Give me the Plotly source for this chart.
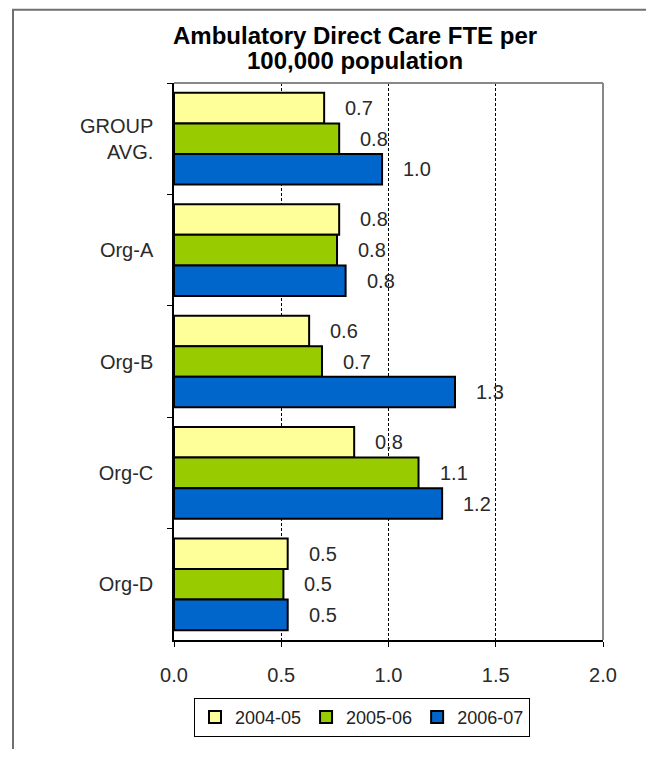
import plotly.graph_objects as go

categories = ["GROUP<br>AVG.", "Org-A", "Org-B", "Org-C", "Org-D"]
series_names = ["2004-05", "2005-06", "2006-07"]
v_2004_05 = [0.70, 0.77, 0.63, 0.84, 0.53]
v_2005_06 = [0.77, 0.76, 0.69, 1.14, 0.51]
v_2006_07 = [0.97, 0.80, 1.31, 1.25, 0.53]
colors = ["#FFFF99", "#99CC00", "#0066CC"]
x_ticks = [0.0, 0.5, 1.0, 1.5, 2.0]

# page has an 8px body margin on every side; size the figure so no scrollbars appear
OFF = 8
W, H = 654 - 2 * OFF, 757 - 2 * OFF
ML, MR, MT, MB = 174 - OFF, 51 - OFF, 83 - OFF, 115 - OFF
plot_w = W - ML - MR
plot_h = H - MT - MB

FONT = "Liberation Sans, Arial, sans-serif"

fig = go.Figure()
all_series = [v_2004_05, v_2005_06, v_2006_07]
for name, vals, col in zip(series_names, all_series, colors):
    fig.add_trace(go.Bar(
        y=categories, x=vals, name=name, orientation="h",
        marker=dict(color=col, line=dict(color="black", width=2)),
        hoverinfo="skip",
    ))

# data labels
bar_px = plot_h / len(categories) * (1 - 0.177) / 3
shifts = [bar_px, 0, -bar_px]
for vals, ys in zip(all_series, shifts):
    for c, v in zip(categories, vals):
        fig.add_annotation(x=v, y=c, text=f"{v:.1f}", showarrow=False,
                           xanchor="left", yanchor="middle", xshift=19, yshift=ys,
                           font=dict(family=FONT, size=20, color="#2a2a2a"))

def px_to_paper_x(px):
    # px in page coordinates
    return (px - OFF - ML) / plot_w

def px_to_paper_y(py):
    return (H - MB - (py - OFF)) / plot_h

# title lines
fig.add_annotation(text="<b>Ambulatory Direct Care FTE per</b>", xref="paper", yref="paper",
                   x=px_to_paper_x(355), y=px_to_paper_y(35), xanchor="center", yanchor="middle",
                   showarrow=False, font=dict(family=FONT, size=24, color="black"))
fig.add_annotation(text="<b>100,000 population</b>", xref="paper", yref="paper",
                   x=px_to_paper_x(355), y=px_to_paper_y(60), xanchor="center", yanchor="middle",
                   showarrow=False, font=dict(family=FONT, size=24, color="black"))

# outer frame
fig.add_shape(type="rect", xref="paper", yref="paper",
              x0=px_to_paper_x(13), x1=px_to_paper_x(700),
              y0=px_to_paper_y(800), y1=px_to_paper_y(9.5),
              line=dict(color="#707070", width=2), fillcolor="rgba(0,0,0,0)", layer="below")
# plot area top and right borders (gray)
fig.add_shape(type="line", xref="paper", yref="paper", x0=0, x1=1, y0=1, y1=1,
              line=dict(color="#888888", width=2))
fig.add_shape(type="line", xref="paper", yref="paper", x0=1, x1=1, y0=0, y1=1,
              line=dict(color="#888888", width=2))

fig.update_layout(
    width=W, height=H,
    margin=dict(l=ML, r=MR, t=MT, b=MB),
    paper_bgcolor="white", plot_bgcolor="white",
    barmode="group", bargap=0.177, bargroupgap=0,
    font=dict(family=FONT, color="#222222"),
    legend=dict(orientation="h", x=px_to_paper_x(362), xanchor="center",
                y=px_to_paper_y(700), yanchor="top",
                bordercolor="black", borderwidth=1,
                font=dict(family=FONT, size=18, color="#222222"),
                traceorder="normal", itemwidth=30),
    showlegend=True,
)

fig.update_xaxes(range=[0, 2], tickvals=x_ticks, ticktext=[f"{t:.1f}" for t in x_ticks],
                 showgrid=True, gridcolor="black", gridwidth=1, griddash="3px,2px",
                 showline=True, linecolor="black", linewidth=1.5,
                 ticks="outside", ticklen=5, tickcolor="black",
                 tickfont=dict(family=FONT, size=20, color="#2a2a2a"),
                 ticklabelstandoff=11, zeroline=False, fixedrange=True)
fig.update_yaxes(type="category", autorange="reversed",
                 showline=True, linecolor="black", linewidth=1.5,
                 ticks="outside", ticklen=5, tickcolor="black", tickson="boundaries",
                 tickfont=dict(family=FONT, size=20, color="#2a2a2a"),
                 ticklabelstandoff=15, showgrid=False, fixedrange=True)

fig.write_html("out.html")
